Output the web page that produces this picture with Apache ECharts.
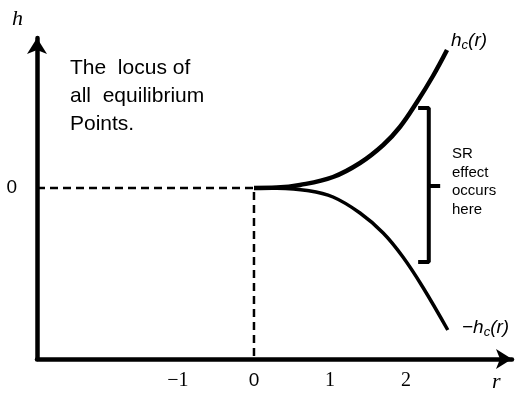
<!DOCTYPE html>
<html>
<head>
<meta charset="UTF-8">
<script src="https://cdn.jsdelivr.net/npm/echarts@6/dist/echarts.min.js"></script>
<title>locus of equilibrium points</title>
<style>
  html, body { margin: 0; padding: 0; background: #fff; }
  #main { width: 522px; height: 394px; }
</style>
</head>
<body>
<div id="main"></div>
<script type="text/javascript">
// axis ranges and tick labels
var xMin = -2.855, xMax = 3.395;
var yMin = -1.71, yMax = 1.50;
var xTicks = [-1, 0, 1, 2];
var yTicks = [0];

// upper branch  h_c(r)
var rUpper = [0, 0.30, 0.605, 1.04, 1.395, 1.70, 1.92, 2.145, 2.355, 2.54];
var hUpper = [0, 0.004, 0.03, 0.11, 0.25, 0.43, 0.61, 0.86, 1.12, 1.38];
// lower branch  -h_c(r)
var rLower = [0, 0.30, 0.70, 1.04, 1.395, 1.70, 1.96, 2.22, 2.55];
var hLower = [0, -0.002, -0.025, -0.09, -0.25, -0.45, -0.69, -0.99, -1.42];

// bracket "}" marking the SR region
var bracketR = [2.16, 2.30, 2.30, 2.16];
var bracketH = [0.80, 0.80, -0.74, -0.74];
var bracketTickR = [2.30, 2.45];
var bracketTickH = [0.02, 0.02];

function zip(a, b) {
  var out = [];
  for (var i = 0; i < a.length; i++) out.push([a[i], b[i]]);
  return out;
}

var subRich = {
  i: { fontFamily: 'Liberation Sans', fontStyle: 'italic', fontSize: 19, lineHeight: 21, fill: '#000' },
  s: { fontFamily: 'Liberation Sans', fontStyle: 'italic', fontSize: 13, lineHeight: 13, padding: [10, 0, 0, 0], fill: '#000' }
};

var myChart = echarts.init(document.getElementById('main'));
myChart.setOption({
  animation: false,
  backgroundColor: '#fff',
  grid: { left: 37, right: 10, top: 38, bottom: 35 },
  xAxis: {
    type: 'value', min: xMin, max: xMax,
    splitLine: { show: false },
    axisTick: { show: false },
    axisLine: {
      onZero: false,
      symbol: ['none', 'arrow'], symbolSize: [15, 16],
      lineStyle: { color: '#000', width: 4.5 }
    },
    axisLabel: {
      customValues: xTicks, margin: 12,
      formatter: function (v) {
        if (v === 0) return '{s|0}';
        return '{t|' + (v < 0 ? '\u2212' : '') + Math.abs(v) + '}';
      },
      rich: {
        s: { fontFamily: 'Liberation Sans', fontSize: 19, color: '#000' },
        t: { fontFamily: 'Liberation Serif', fontSize: 20, color: '#000' }
      }
    }
  },
  yAxis: {
    type: 'value', min: yMin, max: yMax,
    splitLine: { show: false },
    axisTick: { show: false },
    axisLine: {
      onZero: false,
      symbol: ['none', 'arrow'], symbolSize: [15, 16],
      lineStyle: { color: '#000', width: 4.5 }
    },
    axisLabel: {
      customValues: yTicks, margin: 20,
      fontFamily: 'Liberation Sans', fontSize: 19, color: '#000'
    }
  },
  graphic: [
    { type: 'text', left: 12, top: 8,
      style: { text: 'h', font: 'italic 22px "Liberation Serif"', fill: '#000' } },
    { type: 'text', left: 492, top: 371,
      style: { text: 'r', font: 'italic 22px "Liberation Serif"', fill: '#000' } },
    { type: 'text', left: 70, top: 54,
      style: { text: 'The  locus of\nall  equilibrium\nPoints.', font: '21px "Liberation Sans"',
               lineHeight: 28, fill: '#000' } },
    { type: 'text', left: 452, top: 145,
      style: { text: 'SR\neffect\noccurs\nhere', font: '15px "Liberation Sans"',
               lineHeight: 18.5, fill: '#000' } },
    { type: 'text', left: 451, top: 29,
      style: { text: '{i|h}{s|c}{i|(r)}', rich: subRich } },
    { type: 'text', left: 462, top: 316,
      style: { text: '{i|\u2212h}{s|c}{i|(r)}', rich: subRich } }
  ],
  series: [
    {
      name: 'guide', type: 'line', symbol: 'none', silent: true,
      data: [[xMin, 0], [0, 0], [0, yMin]],
      lineStyle: { color: '#000', width: 2.5, type: [8, 5] }
    },
    {
      name: 'hc', type: 'line', symbol: 'none', smooth: 0.4,
      data: zip(rUpper, hUpper),
      lineStyle: { color: '#000', width: 4.5 }
    },
    {
      name: '-hc', type: 'line', symbol: 'none', smooth: 0.4,
      data: zip(rLower, hLower),
      lineStyle: { color: '#000', width: 3.5 }
    },
    {
      name: 'bracket', type: 'line', symbol: 'none',
      data: zip(bracketR, bracketH),
      lineStyle: { color: '#000', width: 4 }
    },
    {
      name: 'bracketTick', type: 'line', symbol: 'none',
      data: zip(bracketTickR, bracketTickH),
      lineStyle: { color: '#000', width: 4 }
    }
  ]
});
</script>
</body>
</html>
